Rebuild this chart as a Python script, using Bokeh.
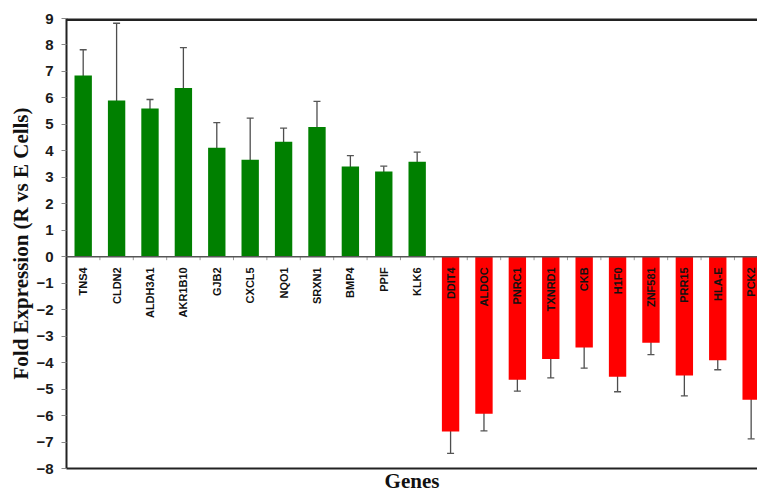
from bokeh.plotting import figure
from bokeh.models import ColumnDataSource, Range1d, Whisker, TeeHead, Span, FixedTicker
from bokeh.core.properties import value
from bokeh.embed import file_html
from bokeh.resources import INLINE
import math

genes = ["TNS4", "CLDN2", "ALDH3A1", "AKR1B10", "GJB2", "CXCL5", "NQO1", "SRXN1", "BMP4", "PPIF", "KLK6",
         "DDIT4", "ALDOC", "PNRC1", "TXNRD1", "CKB", "H1F0", "ZNF581", "PRR15", "HLA-E", "PCK2"]
fold = [6.85, 5.90, 5.60, 6.37, 4.12, 3.66, 4.34, 4.90, 3.41, 3.22, 3.59,
        -6.60, -5.93, -4.65, -3.86, -3.43, -4.53, -3.25, -4.49, -3.91, -5.40]
err = [0.97, 2.92, 0.34, 1.53, 0.95, 1.58, 0.52, 0.97, 0.41, 0.20, 0.36,
       0.83, 0.65, 0.43, 0.72, 0.78, 0.57, 0.45, 0.77, 0.36, 1.48]
y_ticks = list(range(-8, 10))

xs = list(range(len(genes)))
colors = ["#008000" if v >= 0 else "#ff0000" for v in fold]
src = ColumnDataSource(dict(
    x=xs, top=fold, color=colors, gene=genes,
    upper=[v + e for v, e in zip(fold, err)],
    lower=[v - e for v, e in zip(fold, err)],
    lab_y=[-0.4] * len(genes),
))

p = figure(width=757, height=495, output_backend="svg", toolbar_location=None,
           x_range=Range1d(-0.5, 20.19), y_range=Range1d(-8, 9),
           min_border_left=66, min_border_top=18, min_border_right=0, min_border_bottom=24)
p.grid.visible = False
p.outline_line_color = None
p.background_fill_color = "white"

p.vbar(x="x", top="top", bottom=0, width=0.52, color="color", line_color=None, source=src)

whisk = Whisker(base="x", upper="upper", lower="lower", source=src,
                line_color="#3a3a3a", line_width=1.3, line_alpha=0.9,
                upper_head=TeeHead(size=7, line_color="#555555", line_width=1.3),
                lower_head=TeeHead(size=7, line_color="#555555", line_width=1.3))
p.add_layout(whisk)

# zero line and boundary ticks
p.add_layout(Span(location=0, dimension="width", line_color="#555555", line_width=1.5))
bx = [i - 0.5 for i in range(len(genes) + 1)]
p.segment(x0=bx, y0=[0] * len(bx), x1=bx, y1=[-0.13] * len(bx), line_color="#999999", line_width=1)

# top border
p.add_layout(Span(location=9, dimension="width", line_color="#222222", line_width=5))

p.text(x="x", y="lab_y", text="gene", source=src, angle=math.pi / 2,
       text_align="right", text_baseline="middle",
       text_font=value("Liberation Sans"), text_font_style="bold",
       text_font_size="11px", text_color="#111111")

xax = p.xaxis[0]
xax.ticker = FixedTicker(ticks=[])
xax.minor_tick_line_color = None
xax.major_tick_line_color = None
xax.major_tick_out = 0
xax.major_tick_in = 0
xax.major_label_standoff = 0
xax.axis_line_color = "#222222"
xax.axis_line_width = 2
xax.axis_label = "Genes"
xax.axis_label_text_font = "Liberation Serif"
xax.axis_label_text_font_style = "bold"
xax.axis_label_text_font_size = "21px"
xax.axis_label_text_color = "#111111"
xax.axis_label_standoff = 0

yax = p.yaxis[0]
yax.ticker = FixedTicker(ticks=y_ticks)
yax.minor_tick_line_color = None
yax.major_tick_in = 0
yax.major_tick_out = 5
yax.major_tick_line_color = "#888888"
yax.axis_line_color = "#222222"
yax.axis_line_width = 2
yax.major_label_standoff = 8
yax.major_label_text_font = "Liberation Sans"
yax.major_label_text_font_style = "bold"
yax.major_label_text_font_size = "15px"
yax.major_label_text_color = "#1a1a1a"
yax.axis_label = "Fold Expression (R vs E Cells)"
yax.axis_label_text_font = "Liberation Serif"
yax.axis_label_text_font_style = "bold"
yax.axis_label_text_font_size = "21px"
yax.axis_label_text_color = "#111111"
yax.axis_label_standoff = 0

open("out.html", "w").write(file_html(p, INLINE))
